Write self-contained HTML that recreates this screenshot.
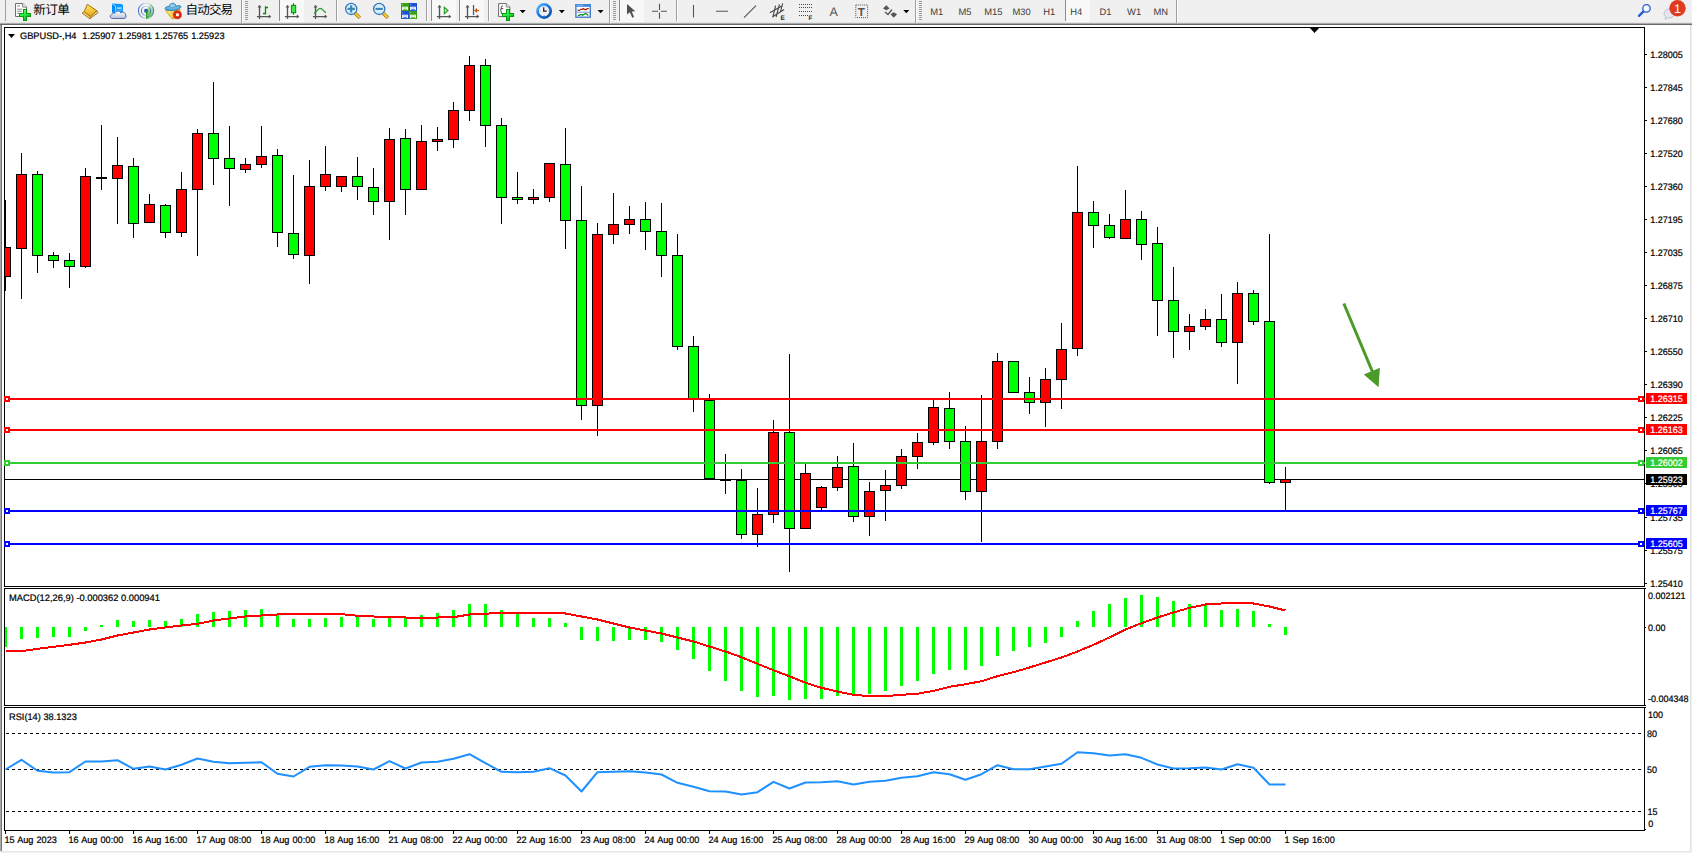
<!DOCTYPE html>
<html lang="zh"><head><meta charset="utf-8"><title>GBPUSD-,H4</title>
<style>html,body{margin:0;padding:0;background:#fff;overflow:hidden}body{width:1692px;height:853px;position:relative}svg{display:block;position:absolute;left:0;top:0}</style>
</head><body>
<svg width="1692" height="853" viewBox="0 0 1692 853" font-family="Liberation Sans, Noto Sans CJK SC, sans-serif" font-size="9.4px" text-rendering="geometricPrecision">
<defs><clipPath id="cp"><rect x="5" y="28" width="1639" height="802"/></clipPath></defs>
<rect x="0" y="0" width="1692" height="853" fill="#fff" />
<g id="toolbar">
<rect x="0" y="0" width="1692" height="23" fill="#f0f0f0" />
<rect x="0" y="22" width="1692" height="1" fill="#e4e4e4" />
<rect x="0" y="23" width="1692" height="1" fill="#ababab" />
<rect x="0" y="24" width="1692" height="1" fill="#686868" />
<g shape-rendering="crispEdges">
<rect x="5" y="0" width="1" height="21" fill="#a0a0a0" />
<rect x="241" y="0" width="1" height="23" fill="#a0a0a0" />
<rect x="242" y="0" width="1" height="23" fill="#fbfbfb" />
<rect x="245" y="1" width="3" height="1" fill="#9a9a9a" />
<rect x="245" y="3" width="3" height="1" fill="#9a9a9a" />
<rect x="245" y="5" width="3" height="1" fill="#9a9a9a" />
<rect x="245" y="7" width="3" height="1" fill="#9a9a9a" />
<rect x="245" y="9" width="3" height="1" fill="#9a9a9a" />
<rect x="245" y="11" width="3" height="1" fill="#9a9a9a" />
<rect x="245" y="13" width="3" height="1" fill="#9a9a9a" />
<rect x="245" y="15" width="3" height="1" fill="#9a9a9a" />
<rect x="245" y="17" width="3" height="1" fill="#9a9a9a" />
<rect x="245" y="19" width="3" height="1" fill="#9a9a9a" />
<rect x="279" y="0" width="1" height="21" fill="#8c8c8c" />
<rect x="280" y="0" width="24" height="21" fill="#f8f8f8" />
<rect x="279" y="21" width="25" height="1" fill="#fdfdfd" />
<rect x="336" y="0" width="1" height="21" fill="#a0a0a0" />
<rect x="337" y="0" width="1" height="21" fill="#fbfbfb" />
<rect x="426" y="0" width="1" height="21" fill="#a0a0a0" />
<rect x="427" y="0" width="1" height="21" fill="#fbfbfb" />
<rect x="431" y="0" width="1" height="21" fill="#8c8c8c" />
<rect x="432" y="0" width="24" height="21" fill="#f8f8f8" />
<rect x="431" y="21" width="25" height="1" fill="#fdfdfd" />
<rect x="459" y="0" width="1" height="21" fill="#8c8c8c" />
<rect x="460" y="0" width="24" height="21" fill="#f8f8f8" />
<rect x="459" y="21" width="25" height="1" fill="#fdfdfd" />
<rect x="488" y="0" width="1" height="21" fill="#a0a0a0" />
<rect x="489" y="0" width="1" height="21" fill="#fbfbfb" />
<rect x="609" y="0" width="1" height="23" fill="#a0a0a0" />
<rect x="610" y="0" width="1" height="23" fill="#fbfbfb" />
<rect x="613" y="1" width="3" height="1" fill="#9a9a9a" />
<rect x="613" y="3" width="3" height="1" fill="#9a9a9a" />
<rect x="613" y="5" width="3" height="1" fill="#9a9a9a" />
<rect x="613" y="7" width="3" height="1" fill="#9a9a9a" />
<rect x="613" y="9" width="3" height="1" fill="#9a9a9a" />
<rect x="613" y="11" width="3" height="1" fill="#9a9a9a" />
<rect x="613" y="13" width="3" height="1" fill="#9a9a9a" />
<rect x="613" y="15" width="3" height="1" fill="#9a9a9a" />
<rect x="613" y="17" width="3" height="1" fill="#9a9a9a" />
<rect x="613" y="19" width="3" height="1" fill="#9a9a9a" />
<rect x="619" y="0" width="1" height="21" fill="#8c8c8c" />
<rect x="620" y="0" width="24" height="21" fill="#f8f8f8" />
<rect x="619" y="21" width="25" height="1" fill="#fdfdfd" />
<rect x="676" y="0" width="1" height="21" fill="#a0a0a0" />
<rect x="677" y="0" width="1" height="21" fill="#fbfbfb" />
<rect x="915" y="0" width="1" height="23" fill="#a0a0a0" />
<rect x="916" y="0" width="1" height="23" fill="#fbfbfb" />
<rect x="919" y="1" width="3" height="1" fill="#9a9a9a" />
<rect x="919" y="3" width="3" height="1" fill="#9a9a9a" />
<rect x="919" y="5" width="3" height="1" fill="#9a9a9a" />
<rect x="919" y="7" width="3" height="1" fill="#9a9a9a" />
<rect x="919" y="9" width="3" height="1" fill="#9a9a9a" />
<rect x="919" y="11" width="3" height="1" fill="#9a9a9a" />
<rect x="919" y="13" width="3" height="1" fill="#9a9a9a" />
<rect x="919" y="15" width="3" height="1" fill="#9a9a9a" />
<rect x="919" y="17" width="3" height="1" fill="#9a9a9a" />
<rect x="919" y="19" width="3" height="1" fill="#9a9a9a" />
<rect x="1065" y="0" width="1" height="21" fill="#8c8c8c" />
<rect x="1066" y="0" width="24" height="21" fill="#f8f8f8" />
<rect x="1065" y="21" width="25" height="1" fill="#fdfdfd" />
<rect x="1176" y="0" width="1" height="23" fill="#a0a0a0" />
<rect x="1177" y="0" width="1" height="23" fill="#fbfbfb" />
</g>
<defs><linearGradient id="gp" x1="0" y1="0" x2="0.7" y2="1"><stop offset="0" stop-color="#8cff90"/><stop offset="0.5" stop-color="#22ee44"/><stop offset="1" stop-color="#06b81c"/></linearGradient><linearGradient id="gbk" x1="0.2" y1="0" x2="0.6" y2="1"><stop offset="0" stop-color="#ffe860"/><stop offset="1" stop-color="#e8a818"/></linearGradient><linearGradient id="gcl" x1="0" y1="0" x2="0" y2="1"><stop offset="0" stop-color="#ffffff"/><stop offset="1" stop-color="#b4c0dc"/></linearGradient><linearGradient id="grg" x1="0" y1="0" x2="1" y2="0"><stop offset="0" stop-color="#2858d0"/><stop offset="0.45" stop-color="#c8d6f0"/><stop offset="0.75" stop-color="#a8d0b0"/><stop offset="1" stop-color="#2a6a90"/></linearGradient><linearGradient id="ggs" x1="0.7" y1="0" x2="0.2" y2="1"><stop offset="0" stop-color="#9cd09a" stop-opacity="0.35"/><stop offset="1" stop-color="#2ea02a" stop-opacity="1"/></linearGradient><linearGradient id="gyl" x1="0" y1="0" x2="1" y2="1"><stop offset="0" stop-color="#fff080"/><stop offset="1" stop-color="#f0b820"/></linearGradient><radialGradient id="ght" cx="0.45" cy="0.3" r="0.7"><stop offset="0" stop-color="#9ad4f4"/><stop offset="1" stop-color="#4aa4dc"/></radialGradient></defs>
<path d="M15.500 3.500h7.200l3.800 3.600v9.400h-11z" fill="#fff" stroke="#6e6e6e" stroke-width="1"/>
<path d="M22.700 3.500v3.600h3.800" fill="#f4f4f4" stroke="#6e6e6e" stroke-width="0.900"/>
<path d="M17.200 6h2.600" stroke="#999" stroke-width="1.300"/><path d="M17.200 9.200h5M17.200 11.300h4.600M17.200 13.400h2" stroke="#8a8a8a" stroke-width="1"/>
<g shape-rendering="crispEdges"><path d="M23 9h4v4h4v4h-4v4h-4v-4h-4v-4h4z" fill="#0a960e"/><path d="M24 10h2v4h4v2h-4v4h-2v-4h-4v-2h4z" fill="url(#gp)"/></g>
<text x="33.200" y="14.300" font-size="12.600px" letter-spacing="-0.600px" fill="#000">新订单</text>
<path d="M96.900 10.700L98 12.700L89.800 18.700L90.600 16.500z" fill="#ece2b0" stroke="#a06a14" stroke-width="0.900" stroke-linejoin="round"/>
<path d="M84.300 11.600L90.600 16.500L89.800 18.700L82.100 13.100z" fill="#f2cc66" stroke="#a8700f" stroke-width="0.900" stroke-linejoin="round"/>
<path d="M87.300 4.300L96.900 10.700L90.600 16.500L84.300 11.600z" fill="url(#gbk)" stroke="#a8700f" stroke-width="1" stroke-linejoin="round"/>
<path d="M112.100 3.400L121.800 3.900L123 5.200V12.500H112.100z" fill="#0a98ff"/>
<path d="M112.100 4.200L115.600 6.500V12.500H112.100z" fill="#0088f0"/><path d="M112.300 3.800L115.600 6.300V12" stroke="#d8f0ff" stroke-width="0.700" fill="none"/>
<path d="M117.100 8.100H121.800" stroke="#e8f8ff" stroke-width="1.200"/><path d="M117 10.300H122.500" stroke="#60c0ff" stroke-width="0.800"/>
<path d="M112.400 18.500C109.600 18.500 109.400 14.400 112.400 14.200C112.600 12.800 114.300 12.600 115 13.300C115.600 10.400 120 10.400 120.800 13C122.500 11.300 125.600 12.300 125.600 14.900C126.600 16 126 18.500 124 18.500z" fill="url(#gcl)" stroke="#44609c" stroke-width="0.900"/>
<circle cx="146" cy="10.850" r="7.900" fill="#f4f4ee"/>
<path d="M146 10.850L146 18.750A7.900 7.900 0 0 0 150.500 4.350z" fill="url(#ggs)"/>
<g fill="none" stroke="url(#grg)" opacity="0.800"><circle cx="146" cy="10.850" r="7.600" stroke-width="1.100"/><circle cx="146" cy="10.850" r="4.600" stroke-width="1.100"/></g>
<circle cx="146" cy="10.700" r="2" fill="#2456cc"/><rect x="146" y="11.100" width="1.300" height="7.600" fill="#22a01c"/>
<path d="M165.400 10.500L180.300 9.600L174 18.700H172z" fill="url(#gyl)" stroke="#c89a10" stroke-width="0.800" stroke-linejoin="round"/>
<path d="M165.100 8.300C165.300 6.800 167.800 6.300 169.200 6.600C169.200 2.300 175.900 2.100 175.900 6.200C177.800 5.400 180.600 5.300 180.900 6.600C181.200 8.600 176.500 10.400 172 10.500C168 10.600 164.900 9.900 165.100 8.300z" fill="url(#ght)" stroke="#2a80b4" stroke-width="0.900"/>
<path d="M169.300 6.800C170.500 8.200 174.500 8 175.800 6.400" fill="none" stroke="#2a80b4" stroke-width="0.600" opacity="0.700"/>
<circle cx="177.350" cy="14.800" r="4.100" fill="#e22a0c" stroke="#b41800" stroke-width="0.500"/><rect x="176.100" y="13.400" width="2.700" height="2.800" fill="#fff"/>
<text x="185.500" y="14.300" font-size="12.600px" letter-spacing="-0.900px" fill="#000">自动交易</text>
<g stroke="#555" stroke-width="1.35" fill="none"><path d="M259.5 5.5V19M256.9 16.6H269.5"/></g>
<path d="M257.5 7.6L259.5 5L261.5 7.6zM268.8 14.6L271.3 16.6L268.8 18.6z" fill="#555"/>
<path d="M265.5 6.2V14.6M265.5 7.5H268M263 13.5H265.5" stroke="#0a8a0a" stroke-width="1.3" fill="none"/>
<g stroke="#555" stroke-width="1.35" fill="none"><path d="M287.5 5.5V19M284.9 16.6H297.5"/></g>
<path d="M285.5 7.6L287.5 5L289.5 7.6zM296.8 14.6L299.3 16.6L296.8 18.6z" fill="#555"/>
<path d="M293.5 3.2V14.8" stroke="#0a8a0a" stroke-width="1.2"/><rect x="291.400" y="5.4" width="4.3" height="7.3" fill="#40e850" stroke="#0a8a0a" stroke-width="1"/>
<g stroke="#555" stroke-width="1.35" fill="none"><path d="M315.5 5.5V19M312.9 16.6H325.5"/></g>
<path d="M313.5 7.6L315.5 5L317.5 7.6zM324.8 14.6L327.3 16.6L324.8 18.6z" fill="#555"/>
<path d="M314 13.600C316.500 12 318 8.400 320.200 8.400S323.500 11.500 326 12.600" stroke="#1f9a2f" stroke-width="1.2" fill="none"/>
<path d="M354.8 12.900L359.9 17.700" stroke="#a8700c" stroke-width="3.400" stroke-linecap="butt"/>
<path d="M355.0 13.100L359.7 17.500" stroke="#f0d030" stroke-width="2" stroke-linecap="butt"/>
<circle cx="351.2" cy="8.900" r="5.600" fill="#d8f0fa" stroke="#3278c0" stroke-width="1.300"/>
<path d="M347.5 8.900H354.9M351.2 5.200V12.600" stroke="#3c86b4" stroke-width="2.100"/>
<path d="M382.8 12.900L387.9 17.700" stroke="#a8700c" stroke-width="3.400" stroke-linecap="butt"/>
<path d="M383.0 13.100L387.7 17.500" stroke="#f0d030" stroke-width="2" stroke-linecap="butt"/>
<circle cx="379.2" cy="8.900" r="5.600" fill="#d8f0fa" stroke="#3278c0" stroke-width="1.300"/>
<path d="M375.5 8.900H382.9" stroke="#3c86b4" stroke-width="2.100"/>
<g shape-rendering="crispEdges">
<rect x="401" y="3" width="8" height="8" fill="#38a014" />
<rect x="402" y="4" width="1" height="1" fill="#8fd070" />
<rect x="402.1" y="6.7" width="5.8" height="3.4" fill="#fff" shape-rendering="geometricPrecision"/>
<rect x="403.2" y="7.5" width="3.6" height="0.9" fill="#8fd070" shape-rendering="geometricPrecision"/>
<rect x="403.2" y="9.3" width="3.6" height="0.9" fill="#38a014" shape-rendering="geometricPrecision"/>
<rect x="409" y="3" width="8" height="8" fill="#1e50d2" />
<rect x="410" y="4" width="1" height="1" fill="#88a4f0" />
<rect x="410.1" y="6.7" width="5.8" height="3.4" fill="#fff" shape-rendering="geometricPrecision"/>
<rect x="411.2" y="7.5" width="3.6" height="0.9" fill="#88a4f0" shape-rendering="geometricPrecision"/>
<rect x="411.2" y="9.3" width="3.6" height="0.9" fill="#1e50d2" shape-rendering="geometricPrecision"/>
<rect x="401" y="11" width="8" height="8" fill="#1e50d2" />
<rect x="402" y="12" width="1" height="1" fill="#88a4f0" />
<rect x="402.1" y="14.7" width="5.8" height="3.4" fill="#fff" shape-rendering="geometricPrecision"/>
<rect x="403.2" y="15.5" width="3.6" height="0.9" fill="#88a4f0" shape-rendering="geometricPrecision"/>
<rect x="403.2" y="17.3" width="3.6" height="0.9" fill="#1e50d2" shape-rendering="geometricPrecision"/>
<rect x="409" y="11" width="8" height="8" fill="#38a014" />
<rect x="410" y="12" width="1" height="1" fill="#8fd070" />
<rect x="410.1" y="14.7" width="5.8" height="3.4" fill="#fff" shape-rendering="geometricPrecision"/>
<rect x="411.2" y="15.5" width="3.6" height="0.9" fill="#8fd070" shape-rendering="geometricPrecision"/>
<rect x="411.2" y="17.3" width="3.6" height="0.9" fill="#38a014" shape-rendering="geometricPrecision"/>
</g>
<g stroke="#555" stroke-width="1.35" fill="none"><path d="M439.5 5.5V19M436.9 16.6H449.5"/></g>
<path d="M437.5 7.6L439.5 5L441.5 7.6zM448.8 14.6L451.3 16.6L448.8 18.6z" fill="#555"/>
<path d="M444.300 7.300V13.700L448 10.500z" fill="#c8f0c0" stroke="#1f9a1f" stroke-width="1.1"/>
<g stroke="#555" stroke-width="1.35" fill="none"><path d="M467.5 5.5V19M464.9 16.6H477.5"/></g>
<path d="M465.5 7.6L467.5 5L469.5 7.6zM476.8 14.6L479.3 16.6L476.8 18.6z" fill="#555"/>
<path d="M473.500 5V15" stroke="#1a6ab0" stroke-width="1.300"/><path d="M475 10.500H479" stroke="#dc5008" stroke-width="1.300" fill="none"/><path d="M474.200 10.500L477 8L477 13z" fill="#dc5008"/>
<path d="M498.600 3.600h7.600l3.600 3.400v9.600h-11.200z" fill="#fff" stroke="#6a6a6a" stroke-width="1"/>
<path d="M506.200 3.600v3.400h3.600" fill="#f0f0f0" stroke="#6a6a6a" stroke-width="0.800"/>
<path d="M503 6c-1.600 0-1.800 0.600-1.800 2.200c0 1.200-0.300 1.700-1 1.900c0.700 0.200 1 0.700 1 1.900c0 1.600 0.200 2.200 1.800 2.200M501 8.600h2.300" fill="none" stroke="#3a3a3a" stroke-width="0.900"/>
<g shape-rendering="crispEdges"><path d="M506 9h4v4h4v4h-4v4h-4v-4h-4v-4h4z" fill="#0a960e"/><path d="M507 10h2v4h4v2h-4v4h-2v-4h-4v-2h4z" fill="url(#gp)"/></g>
<path d="M519.7 10h6l-3 3.2z" fill="#000" shape-rendering="geometricPrecision"/>
<defs><linearGradient id="gck" x1="0.15" y1="0.1" x2="0.85" y2="0.95"><stop offset="0" stop-color="#4aa8fa"/><stop offset="0.5" stop-color="#1672dc"/><stop offset="1" stop-color="#0a50b4"/></linearGradient></defs>
<circle cx="544.100" cy="11" r="6.600" fill="#eef0f4" stroke="url(#gck)" stroke-width="2.700"/>
<path d="M543.700 7.200V11.200H546.700" fill="none" stroke="#222" stroke-width="1.300"/>
<g fill="#889"><rect x="543.700" y="15" width="0.900" height="0.900"/><rect x="539.600" y="10.600" width="0.900" height="0.900"/><rect x="547.800" y="10.600" width="0.600" height="0.600"/></g>
<path d="M558.8 10h6l-3 3.2z" fill="#000" shape-rendering="geometricPrecision"/>
<rect x="575.900" y="4.800" width="14.400" height="12.400" fill="#fff" stroke="#3a74c4" stroke-width="1.300"/>
<rect x="575.300" y="4.200" width="15.600" height="2.600" fill="#3f84dc"/><rect x="576.500" y="4.800" width="7" height="0.800" fill="#9cc8f8"/>
<path d="M576.500 12.200H589.800" stroke="#5a90d8" stroke-width="0.900"/>
<path d="M577.500 10.400H579.300L580.800 9.300H582.300L583.300 8.500L584.500 9.500H586.300L587.300 8.600H588.800" fill="none" stroke="#a42a08" stroke-width="1.300"/>
<path d="M577.800 15.300H579.300L580.300 14.600H581.800L582.800 15.200L584.300 14.200L585.500 13.400L586.500 14L588.300 15.600" fill="none" stroke="#0e8a24" stroke-width="1.300"/>
<path d="M597.6 10h6l-3 3.2z" fill="#000" shape-rendering="geometricPrecision"/>
<path d="M627 3.900V14.600L629.800 12.200L632.300 17.800L634.100 16.900L631.700 11.500L635.300 11.300z" fill="#505050"/>
<path d="M659.500 3.800V10M659.500 12.600V18.800M652 11.300H658.200M660.800 11.300H667" stroke="#555" stroke-width="1.100" fill="none"/>
<path d="M693.500 5V17.500M716 11.300H728M744 17.600L756 5.600" stroke="#555" stroke-width="1.100" fill="none"/>
<path d="M769.900 12.800L782.200 5.700M772.300 17L784.100 9.500M775.600 5.700L772.800 17.500M779.400 4.300L776.100 17M782.700 3.300L780.300 12.300" stroke="#484848" stroke-width="1.100" fill="none"/>
<text x="780.600" y="19.900" font-size="6.400px" font-weight="bold" fill="#2a2a2a">E</text>
<path d="M799 4.5H812.5" stroke="#4a4a4a" stroke-width="1" stroke-dasharray="1 1" shape-rendering="crispEdges"/>
<path d="M799 7.5H812.5" stroke="#4a4a4a" stroke-width="1" stroke-dasharray="1 1" shape-rendering="crispEdges"/>
<path d="M799 11.5H812.5" stroke="#4a4a4a" stroke-width="1" stroke-dasharray="1 1" shape-rendering="crispEdges"/>
<path d="M799 15.5H807.5" stroke="#4a4a4a" stroke-width="1" stroke-dasharray="1 1" shape-rendering="crispEdges"/>
<text x="808.600" y="19.900" font-size="6.400px" font-weight="bold" fill="#2a2a2a">F</text>
<text x="829.600" y="16.200" font-size="12.500px" fill="#555">A</text>
<rect x="855.800" y="5" width="11.800" height="12.600" fill="none" stroke="#555" stroke-width="1" stroke-dasharray="1 1"/>
<text x="857.700" y="15.800" font-size="11.500px" font-weight="bold" fill="#555">T</text>
<path d="M883 8.400L886.300 5.200L889.600 8.400L886.300 10.300z" fill="#555"/><path d="M890.500 14.300L893.800 12.300L897.100 14.300L893.800 17.700z" fill="#555"/>
<path d="M885 12L888 14.500L892 9.500" fill="none" stroke="#555" stroke-width="1.300"/>
<path d="M903.3 10h6l-3 3.2z" fill="#000" shape-rendering="geometricPrecision"/>
<text x="930.3" y="15" font-size="9.400px" fill="#3c3c3c">M1</text>
<text x="958.5" y="15" font-size="9.400px" fill="#3c3c3c">M5</text>
<text x="984.3" y="15" font-size="9.400px" fill="#3c3c3c">M15</text>
<text x="1012.5" y="15" font-size="9.400px" fill="#3c3c3c">M30</text>
<text x="1043.2" y="15" font-size="9.400px" fill="#3c3c3c">H1</text>
<text x="1070.2" y="15" font-size="9.400px" fill="#3c3c3c">H4</text>
<text x="1099.6" y="15" font-size="9.400px" fill="#3c3c3c">D1</text>
<text x="1127.1" y="15" font-size="9.400px" fill="#3c3c3c">W1</text>
<text x="1153.5" y="15" font-size="9.400px" fill="#3c3c3c">MN</text>
<path d="M1643.800 11.200L1639 15.800" stroke="#2a5ad0" stroke-width="2.400" stroke-linecap="round"/><circle cx="1646.500" cy="8.400" r="3.700" fill="#f4f8ff" stroke="#2a5ad0" stroke-width="1.300"/>
<path d="M1664 13.500a5.500 4.500 0 0 1 11 0a5.500 4.500 0 0 1 -7.500 4.200l-2.300 1.800l0.600-2.800a4.500 4.500 0 0 1 -1.800-3.200z" fill="#e4e6ee" stroke="#b8b8c0" stroke-width="0.800"/>
<circle cx="1677.500" cy="8.200" r="8.200" fill="#e03a20"/>
<text x="1677.500" y="12.800" font-size="12.500px" fill="#fff" text-anchor="middle">1</text>
</g>
<rect x="0" y="25" width="1" height="826" fill="#a8a8a8" />
<rect x="1" y="25" width="1" height="826" fill="#747474" />
<rect x="1690" y="25" width="1" height="826" fill="#e0e0e0" />
<rect x="1691" y="25" width="1" height="828" fill="#f0f0f0" />
<rect x="0" y="851" width="1691" height="1" fill="#e6e6e6" />
<rect x="0" y="852" width="1692" height="1" fill="#f0f0f0" />
<g shape-rendering="crispEdges">
<rect x="4" y="27" width="1641" height="1" fill="#000" />
<rect x="4" y="27" width="1" height="560" fill="#000" />
<rect x="4" y="586" width="1641" height="1" fill="#000" />
<rect x="1644" y="27" width="1" height="560" fill="#000" />
<rect x="1644" y="588" width="1" height="118" fill="#000" />
<rect x="1644" y="707" width="1" height="124" fill="#000" />
<rect x="1645" y="588" width="1" height="1" fill="#000" />
<rect x="1645" y="705" width="1" height="1" fill="#000" />
<rect x="1645" y="707" width="1" height="1" fill="#000" />
<rect x="4" y="588" width="1641" height="1" fill="#000" />
<rect x="4" y="588" width="1" height="118" fill="#000" />
<rect x="4" y="705" width="1641" height="1" fill="#000" />
<rect x="4" y="707" width="1641" height="1" fill="#000" />
<rect x="4" y="707" width="1" height="124" fill="#000" />
<rect x="4" y="830" width="1641" height="1" fill="#000" />
<rect x="1645" y="829" width="1" height="1" fill="#000" />
<g clip-path="url(#cp)">
<rect x="5" y="479" width="1639" height="1" fill="#000" />
<rect x="5" y="200" width="1" height="91" fill="#000" />
<rect x="0" y="247" width="11" height="30" fill="#000" />
<rect x="1" y="248" width="9" height="28" fill="#f00" />
<rect x="21" y="153" width="1" height="146" fill="#000" />
<rect x="16" y="174" width="11" height="75" fill="#000" />
<rect x="17" y="175" width="9" height="73" fill="#f00" />
<rect x="37" y="171" width="1" height="102" fill="#000" />
<rect x="32" y="174" width="11" height="82" fill="#000" />
<rect x="33" y="175" width="9" height="80" fill="#0f0" />
<rect x="53" y="252" width="1" height="16" fill="#000" />
<rect x="48" y="255" width="11" height="6" fill="#000" />
<rect x="49" y="256" width="9" height="4" fill="#0f0" />
<rect x="69" y="253" width="1" height="35" fill="#000" />
<rect x="64" y="260" width="11" height="7" fill="#000" />
<rect x="65" y="261" width="9" height="5" fill="#0f0" />
<rect x="85" y="168" width="1" height="100" fill="#000" />
<rect x="80" y="176" width="11" height="91" fill="#000" />
<rect x="81" y="177" width="9" height="89" fill="#f00" />
<rect x="101" y="125" width="1" height="65" fill="#000" />
<rect x="96" y="177" width="11" height="2" fill="#000" />
<rect x="117" y="137" width="1" height="87" fill="#000" />
<rect x="112" y="165" width="11" height="14" fill="#000" />
<rect x="113" y="166" width="9" height="12" fill="#f00" />
<rect x="133" y="158" width="1" height="80" fill="#000" />
<rect x="128" y="166" width="11" height="58" fill="#000" />
<rect x="129" y="167" width="9" height="56" fill="#0f0" />
<rect x="149" y="194" width="1" height="29" fill="#000" />
<rect x="144" y="204" width="11" height="19" fill="#000" />
<rect x="145" y="205" width="9" height="17" fill="#f00" />
<rect x="165" y="204" width="1" height="34" fill="#000" />
<rect x="160" y="205" width="11" height="28" fill="#000" />
<rect x="161" y="206" width="9" height="26" fill="#0f0" />
<rect x="181" y="172" width="1" height="65" fill="#000" />
<rect x="176" y="189" width="11" height="44" fill="#000" />
<rect x="177" y="190" width="9" height="42" fill="#f00" />
<rect x="197" y="129" width="1" height="127" fill="#000" />
<rect x="192" y="133" width="11" height="57" fill="#000" />
<rect x="193" y="134" width="9" height="55" fill="#f00" />
<rect x="213" y="82" width="1" height="103" fill="#000" />
<rect x="208" y="133" width="11" height="26" fill="#000" />
<rect x="209" y="134" width="9" height="24" fill="#0f0" />
<rect x="229" y="126" width="1" height="80" fill="#000" />
<rect x="224" y="158" width="11" height="11" fill="#000" />
<rect x="225" y="159" width="9" height="9" fill="#0f0" />
<rect x="245" y="158" width="1" height="15" fill="#000" />
<rect x="240" y="164" width="11" height="6" fill="#000" />
<rect x="241" y="165" width="9" height="4" fill="#f00" />
<rect x="261" y="126" width="1" height="42" fill="#000" />
<rect x="256" y="156" width="11" height="9" fill="#000" />
<rect x="257" y="157" width="9" height="7" fill="#f00" />
<rect x="277" y="149" width="1" height="98" fill="#000" />
<rect x="272" y="155" width="11" height="78" fill="#000" />
<rect x="273" y="156" width="9" height="76" fill="#0f0" />
<rect x="293" y="175" width="1" height="84" fill="#000" />
<rect x="288" y="233" width="11" height="22" fill="#000" />
<rect x="289" y="234" width="9" height="20" fill="#0f0" />
<rect x="309" y="160" width="1" height="124" fill="#000" />
<rect x="304" y="186" width="11" height="70" fill="#000" />
<rect x="305" y="187" width="9" height="68" fill="#f00" />
<rect x="325" y="146" width="1" height="45" fill="#000" />
<rect x="320" y="174" width="11" height="13" fill="#000" />
<rect x="321" y="175" width="9" height="11" fill="#f00" />
<rect x="341" y="176" width="1" height="16" fill="#000" />
<rect x="336" y="176" width="11" height="11" fill="#000" />
<rect x="337" y="177" width="9" height="9" fill="#f00" />
<rect x="357" y="157" width="1" height="43" fill="#000" />
<rect x="352" y="176" width="11" height="11" fill="#000" />
<rect x="353" y="177" width="9" height="9" fill="#0f0" />
<rect x="373" y="168" width="1" height="47" fill="#000" />
<rect x="368" y="187" width="11" height="15" fill="#000" />
<rect x="369" y="188" width="9" height="13" fill="#0f0" />
<rect x="389" y="128" width="1" height="112" fill="#000" />
<rect x="384" y="139" width="11" height="63" fill="#000" />
<rect x="385" y="140" width="9" height="61" fill="#f00" />
<rect x="405" y="129" width="1" height="86" fill="#000" />
<rect x="400" y="138" width="11" height="52" fill="#000" />
<rect x="401" y="139" width="9" height="50" fill="#0f0" />
<rect x="421" y="125" width="1" height="65" fill="#000" />
<rect x="416" y="141" width="11" height="49" fill="#000" />
<rect x="417" y="142" width="9" height="47" fill="#f00" />
<rect x="437" y="127" width="1" height="24" fill="#000" />
<rect x="432" y="139" width="11" height="3" fill="#000" />
<rect x="433" y="140" width="9" height="1" fill="#f00" />
<rect x="453" y="102" width="1" height="46" fill="#000" />
<rect x="448" y="110" width="11" height="30" fill="#000" />
<rect x="449" y="111" width="9" height="28" fill="#f00" />
<rect x="469" y="56" width="1" height="65" fill="#000" />
<rect x="464" y="65" width="11" height="46" fill="#000" />
<rect x="465" y="66" width="9" height="44" fill="#f00" />
<rect x="485" y="59" width="1" height="88" fill="#000" />
<rect x="480" y="65" width="11" height="61" fill="#000" />
<rect x="481" y="66" width="9" height="59" fill="#0f0" />
<rect x="501" y="118" width="1" height="106" fill="#000" />
<rect x="496" y="125" width="11" height="73" fill="#000" />
<rect x="497" y="126" width="9" height="71" fill="#0f0" />
<rect x="517" y="172" width="1" height="32" fill="#000" />
<rect x="512" y="197" width="11" height="3" fill="#000" />
<rect x="513" y="198" width="9" height="1" fill="#0f0" />
<rect x="533" y="189" width="1" height="15" fill="#000" />
<rect x="528" y="197" width="11" height="3" fill="#000" />
<rect x="529" y="198" width="9" height="1" fill="#f00" />
<rect x="549" y="163" width="1" height="39" fill="#000" />
<rect x="544" y="163" width="11" height="35" fill="#000" />
<rect x="545" y="164" width="9" height="33" fill="#f00" />
<rect x="565" y="128" width="1" height="121" fill="#000" />
<rect x="560" y="164" width="11" height="57" fill="#000" />
<rect x="561" y="165" width="9" height="55" fill="#0f0" />
<rect x="581" y="186" width="1" height="234" fill="#000" />
<rect x="576" y="220" width="11" height="186" fill="#000" />
<rect x="577" y="221" width="9" height="184" fill="#0f0" />
<rect x="597" y="223" width="1" height="213" fill="#000" />
<rect x="592" y="234" width="11" height="172" fill="#000" />
<rect x="593" y="235" width="9" height="170" fill="#f00" />
<rect x="613" y="193" width="1" height="51" fill="#000" />
<rect x="608" y="224" width="11" height="11" fill="#000" />
<rect x="609" y="225" width="9" height="9" fill="#f00" />
<rect x="629" y="206" width="1" height="28" fill="#000" />
<rect x="624" y="219" width="11" height="6" fill="#000" />
<rect x="625" y="220" width="9" height="4" fill="#f00" />
<rect x="645" y="202" width="1" height="48" fill="#000" />
<rect x="640" y="219" width="11" height="13" fill="#000" />
<rect x="641" y="220" width="9" height="11" fill="#0f0" />
<rect x="661" y="203" width="1" height="74" fill="#000" />
<rect x="656" y="231" width="11" height="25" fill="#000" />
<rect x="657" y="232" width="9" height="23" fill="#0f0" />
<rect x="677" y="234" width="1" height="116" fill="#000" />
<rect x="672" y="255" width="11" height="92" fill="#000" />
<rect x="673" y="256" width="9" height="90" fill="#0f0" />
<rect x="693" y="336" width="1" height="76" fill="#000" />
<rect x="688" y="346" width="11" height="53" fill="#000" />
<rect x="689" y="347" width="9" height="51" fill="#0f0" />
<rect x="709" y="394" width="1" height="85" fill="#000" />
<rect x="704" y="400" width="11" height="79" fill="#000" />
<rect x="705" y="401" width="9" height="77" fill="#0f0" />
<rect x="725" y="454" width="1" height="40" fill="#000" />
<rect x="720" y="479" width="11" height="2" fill="#000" />
<rect x="741" y="469" width="1" height="70" fill="#000" />
<rect x="736" y="480" width="11" height="55" fill="#000" />
<rect x="737" y="481" width="9" height="53" fill="#0f0" />
<rect x="757" y="488" width="1" height="59" fill="#000" />
<rect x="752" y="514" width="11" height="21" fill="#000" />
<rect x="753" y="515" width="9" height="19" fill="#f00" />
<rect x="773" y="420" width="1" height="103" fill="#000" />
<rect x="768" y="432" width="11" height="83" fill="#000" />
<rect x="769" y="433" width="9" height="81" fill="#f00" />
<rect x="789" y="354" width="1" height="218" fill="#000" />
<rect x="784" y="432" width="11" height="97" fill="#000" />
<rect x="785" y="433" width="9" height="95" fill="#0f0" />
<rect x="805" y="464" width="1" height="65" fill="#000" />
<rect x="800" y="473" width="11" height="56" fill="#000" />
<rect x="801" y="474" width="9" height="54" fill="#f00" />
<rect x="821" y="486" width="1" height="24" fill="#000" />
<rect x="816" y="487" width="11" height="21" fill="#000" />
<rect x="817" y="488" width="9" height="19" fill="#f00" />
<rect x="837" y="456" width="1" height="35" fill="#000" />
<rect x="832" y="467" width="11" height="21" fill="#000" />
<rect x="833" y="468" width="9" height="19" fill="#f00" />
<rect x="853" y="443" width="1" height="79" fill="#000" />
<rect x="848" y="466" width="11" height="51" fill="#000" />
<rect x="849" y="467" width="9" height="49" fill="#0f0" />
<rect x="869" y="482" width="1" height="54" fill="#000" />
<rect x="864" y="491" width="11" height="26" fill="#000" />
<rect x="865" y="492" width="9" height="24" fill="#f00" />
<rect x="885" y="470" width="1" height="51" fill="#000" />
<rect x="880" y="485" width="11" height="6" fill="#000" />
<rect x="881" y="486" width="9" height="4" fill="#f00" />
<rect x="901" y="449" width="1" height="40" fill="#000" />
<rect x="896" y="456" width="11" height="30" fill="#000" />
<rect x="897" y="457" width="9" height="28" fill="#f00" />
<rect x="917" y="433" width="1" height="36" fill="#000" />
<rect x="912" y="442" width="11" height="15" fill="#000" />
<rect x="913" y="443" width="9" height="13" fill="#f00" />
<rect x="933" y="400" width="1" height="45" fill="#000" />
<rect x="928" y="407" width="11" height="36" fill="#000" />
<rect x="929" y="408" width="9" height="34" fill="#f00" />
<rect x="949" y="392" width="1" height="57" fill="#000" />
<rect x="944" y="408" width="11" height="34" fill="#000" />
<rect x="945" y="409" width="9" height="32" fill="#0f0" />
<rect x="965" y="426" width="1" height="74" fill="#000" />
<rect x="960" y="441" width="11" height="51" fill="#000" />
<rect x="961" y="442" width="9" height="49" fill="#0f0" />
<rect x="981" y="395" width="1" height="147" fill="#000" />
<rect x="976" y="441" width="11" height="51" fill="#000" />
<rect x="977" y="442" width="9" height="49" fill="#f00" />
<rect x="997" y="353" width="1" height="96" fill="#000" />
<rect x="992" y="361" width="11" height="81" fill="#000" />
<rect x="993" y="362" width="9" height="79" fill="#f00" />
<rect x="1013" y="361" width="1" height="31" fill="#000" />
<rect x="1008" y="361" width="11" height="32" fill="#000" />
<rect x="1009" y="362" width="9" height="30" fill="#0f0" />
<rect x="1029" y="377" width="1" height="37" fill="#000" />
<rect x="1024" y="392" width="11" height="11" fill="#000" />
<rect x="1025" y="393" width="9" height="9" fill="#0f0" />
<rect x="1045" y="368" width="1" height="59" fill="#000" />
<rect x="1040" y="379" width="11" height="24" fill="#000" />
<rect x="1041" y="380" width="9" height="22" fill="#f00" />
<rect x="1061" y="323" width="1" height="86" fill="#000" />
<rect x="1056" y="349" width="11" height="31" fill="#000" />
<rect x="1057" y="350" width="9" height="29" fill="#f00" />
<rect x="1077" y="166" width="1" height="190" fill="#000" />
<rect x="1072" y="212" width="11" height="137" fill="#000" />
<rect x="1073" y="213" width="9" height="135" fill="#f00" />
<rect x="1093" y="201" width="1" height="47" fill="#000" />
<rect x="1088" y="212" width="11" height="14" fill="#000" />
<rect x="1089" y="213" width="9" height="12" fill="#0f0" />
<rect x="1109" y="214" width="1" height="25" fill="#000" />
<rect x="1104" y="225" width="11" height="13" fill="#000" />
<rect x="1105" y="226" width="9" height="11" fill="#0f0" />
<rect x="1125" y="190" width="1" height="49" fill="#000" />
<rect x="1120" y="219" width="11" height="20" fill="#000" />
<rect x="1121" y="220" width="9" height="18" fill="#f00" />
<rect x="1141" y="211" width="1" height="49" fill="#000" />
<rect x="1136" y="219" width="11" height="26" fill="#000" />
<rect x="1137" y="220" width="9" height="24" fill="#0f0" />
<rect x="1157" y="227" width="1" height="109" fill="#000" />
<rect x="1152" y="243" width="11" height="58" fill="#000" />
<rect x="1153" y="244" width="9" height="56" fill="#0f0" />
<rect x="1173" y="267" width="1" height="91" fill="#000" />
<rect x="1168" y="300" width="11" height="32" fill="#000" />
<rect x="1169" y="301" width="9" height="30" fill="#0f0" />
<rect x="1189" y="314" width="1" height="36" fill="#000" />
<rect x="1184" y="326" width="11" height="6" fill="#000" />
<rect x="1185" y="327" width="9" height="4" fill="#f00" />
<rect x="1205" y="309" width="1" height="21" fill="#000" />
<rect x="1200" y="319" width="11" height="8" fill="#000" />
<rect x="1201" y="320" width="9" height="6" fill="#f00" />
<rect x="1221" y="294" width="1" height="53" fill="#000" />
<rect x="1216" y="319" width="11" height="24" fill="#000" />
<rect x="1217" y="320" width="9" height="22" fill="#0f0" />
<rect x="1237" y="282" width="1" height="102" fill="#000" />
<rect x="1232" y="293" width="11" height="50" fill="#000" />
<rect x="1233" y="294" width="9" height="48" fill="#f00" />
<rect x="1253" y="290" width="1" height="35" fill="#000" />
<rect x="1248" y="293" width="11" height="29" fill="#000" />
<rect x="1249" y="294" width="9" height="27" fill="#0f0" />
<rect x="1269" y="234" width="1" height="250" fill="#000" />
<rect x="1264" y="321" width="11" height="162" fill="#000" />
<rect x="1265" y="322" width="9" height="160" fill="#0f0" />
<rect x="1285" y="467" width="1" height="43" fill="#000" />
<rect x="1280" y="479" width="11" height="4" fill="#000" />
<rect x="1281" y="480" width="9" height="2" fill="#f00" />
<rect x="5" y="398" width="1639" height="2" fill="#f00" />
<rect x="1638" y="396" width="6" height="6" fill="#f00" />
<rect x="1640" y="398" width="2" height="2" fill="#fff" />
<rect x="5" y="429" width="1639" height="2" fill="#f00" />
<rect x="1638" y="427" width="6" height="6" fill="#f00" />
<rect x="1640" y="429" width="2" height="2" fill="#fff" />
<rect x="5" y="462" width="1639" height="2" fill="#32cd32" />
<rect x="1638" y="460" width="6" height="6" fill="#32cd32" />
<rect x="1640" y="462" width="2" height="2" fill="#fff" />
<rect x="5" y="510" width="1639" height="2" fill="#00f" />
<rect x="1638" y="508" width="6" height="6" fill="#00f" />
<rect x="1640" y="510" width="2" height="2" fill="#fff" />
<rect x="5" y="543" width="1639" height="2" fill="#00f" />
<rect x="1638" y="541" width="6" height="6" fill="#00f" />
<rect x="1640" y="543" width="2" height="2" fill="#fff" />
<rect x="4" y="627" width="3" height="20" fill="#0f0" />
<rect x="20" y="627" width="3" height="12" fill="#0f0" />
<rect x="36" y="627" width="3" height="11" fill="#0f0" />
<rect x="52" y="627" width="3" height="10" fill="#0f0" />
<rect x="68" y="627" width="3" height="10" fill="#0f0" />
<rect x="84" y="627" width="3" height="4" fill="#0f0" />
<rect x="100" y="625" width="3" height="2" fill="#0f0" />
<rect x="116" y="620" width="3" height="7" fill="#0f0" />
<rect x="132" y="621" width="3" height="6" fill="#0f0" />
<rect x="148" y="620" width="3" height="7" fill="#0f0" />
<rect x="164" y="621" width="3" height="6" fill="#0f0" />
<rect x="180" y="619" width="3" height="8" fill="#0f0" />
<rect x="196" y="614" width="3" height="13" fill="#0f0" />
<rect x="212" y="612" width="3" height="15" fill="#0f0" />
<rect x="228" y="611" width="3" height="16" fill="#0f0" />
<rect x="244" y="610" width="3" height="17" fill="#0f0" />
<rect x="260" y="609" width="3" height="18" fill="#0f0" />
<rect x="276" y="614" width="3" height="13" fill="#0f0" />
<rect x="292" y="619" width="3" height="8" fill="#0f0" />
<rect x="308" y="619" width="3" height="8" fill="#0f0" />
<rect x="324" y="618" width="3" height="9" fill="#0f0" />
<rect x="340" y="617" width="3" height="10" fill="#0f0" />
<rect x="356" y="617" width="3" height="10" fill="#0f0" />
<rect x="372" y="619" width="3" height="8" fill="#0f0" />
<rect x="388" y="616" width="3" height="11" fill="#0f0" />
<rect x="404" y="617" width="3" height="10" fill="#0f0" />
<rect x="420" y="615" width="3" height="12" fill="#0f0" />
<rect x="436" y="613" width="3" height="14" fill="#0f0" />
<rect x="452" y="610" width="3" height="17" fill="#0f0" />
<rect x="468" y="604" width="3" height="23" fill="#0f0" />
<rect x="484" y="604" width="3" height="23" fill="#0f0" />
<rect x="500" y="610" width="3" height="17" fill="#0f0" />
<rect x="516" y="614" width="3" height="13" fill="#0f0" />
<rect x="532" y="618" width="3" height="9" fill="#0f0" />
<rect x="548" y="618" width="3" height="9" fill="#0f0" />
<rect x="564" y="623" width="3" height="4" fill="#0f0" />
<rect x="580" y="627" width="3" height="13" fill="#0f0" />
<rect x="596" y="627" width="3" height="14" fill="#0f0" />
<rect x="612" y="627" width="3" height="14" fill="#0f0" />
<rect x="628" y="627" width="3" height="13" fill="#0f0" />
<rect x="644" y="627" width="3" height="13" fill="#0f0" />
<rect x="660" y="627" width="3" height="15" fill="#0f0" />
<rect x="676" y="627" width="3" height="23" fill="#0f0" />
<rect x="692" y="627" width="3" height="32" fill="#0f0" />
<rect x="708" y="627" width="3" height="44" fill="#0f0" />
<rect x="724" y="627" width="3" height="54" fill="#0f0" />
<rect x="740" y="627" width="3" height="64" fill="#0f0" />
<rect x="756" y="627" width="3" height="70" fill="#0f0" />
<rect x="772" y="627" width="3" height="69" fill="#0f0" />
<rect x="788" y="627" width="3" height="73" fill="#0f0" />
<rect x="804" y="627" width="3" height="72" fill="#0f0" />
<rect x="820" y="627" width="3" height="72" fill="#0f0" />
<rect x="836" y="627" width="3" height="69" fill="#0f0" />
<rect x="852" y="627" width="3" height="68" fill="#0f0" />
<rect x="868" y="627" width="3" height="67" fill="#0f0" />
<rect x="884" y="627" width="3" height="64" fill="#0f0" />
<rect x="900" y="627" width="3" height="59" fill="#0f0" />
<rect x="916" y="627" width="3" height="54" fill="#0f0" />
<rect x="932" y="627" width="3" height="47" fill="#0f0" />
<rect x="948" y="627" width="3" height="43" fill="#0f0" />
<rect x="964" y="627" width="3" height="43" fill="#0f0" />
<rect x="980" y="627" width="3" height="39" fill="#0f0" />
<rect x="996" y="627" width="3" height="29" fill="#0f0" />
<rect x="1012" y="627" width="3" height="24" fill="#0f0" />
<rect x="1028" y="627" width="3" height="20" fill="#0f0" />
<rect x="1044" y="627" width="3" height="16" fill="#0f0" />
<rect x="1060" y="627" width="3" height="10" fill="#0f0" />
<rect x="1076" y="621" width="3" height="6" fill="#0f0" />
<rect x="1092" y="611" width="3" height="16" fill="#0f0" />
<rect x="1108" y="604" width="3" height="23" fill="#0f0" />
<rect x="1124" y="598" width="3" height="29" fill="#0f0" />
<rect x="1140" y="595" width="3" height="32" fill="#0f0" />
<rect x="1156" y="597" width="3" height="30" fill="#0f0" />
<rect x="1172" y="601" width="3" height="26" fill="#0f0" />
<rect x="1188" y="604" width="3" height="23" fill="#0f0" />
<rect x="1204" y="605" width="3" height="22" fill="#0f0" />
<rect x="1220" y="610" width="3" height="17" fill="#0f0" />
<rect x="1236" y="609" width="3" height="18" fill="#0f0" />
<rect x="1252" y="611" width="3" height="16" fill="#0f0" />
<rect x="1268" y="624" width="3" height="3" fill="#0f0" />
<rect x="1284" y="627" width="3" height="8" fill="#0f0" />
<path d="M6 733.5H1644" stroke="#000" stroke-width="1" stroke-dasharray="3 3" fill="none"/>
<path d="M6 769.5H1644" stroke="#000" stroke-width="1" stroke-dasharray="3 3" fill="none"/>
<path d="M6 811.5H1644" stroke="#000" stroke-width="1" stroke-dasharray="3 3" fill="none"/>
</g>
<rect x="4" y="396" width="6" height="6" fill="#f00" />
<rect x="6" y="398" width="2" height="2" fill="#fff" />
<rect x="1644" y="398" width="1" height="2" fill="#f00" />
<rect x="4" y="427" width="6" height="6" fill="#f00" />
<rect x="6" y="429" width="2" height="2" fill="#fff" />
<rect x="1644" y="429" width="1" height="2" fill="#f00" />
<rect x="4" y="460" width="6" height="6" fill="#32cd32" />
<rect x="6" y="462" width="2" height="2" fill="#fff" />
<rect x="1644" y="462" width="1" height="2" fill="#32cd32" />
<rect x="4" y="508" width="6" height="6" fill="#00f" />
<rect x="6" y="510" width="2" height="2" fill="#fff" />
<rect x="1644" y="510" width="1" height="2" fill="#00f" />
<rect x="4" y="541" width="6" height="6" fill="#00f" />
<rect x="6" y="543" width="2" height="2" fill="#fff" />
<rect x="1644" y="543" width="1" height="2" fill="#00f" />
<rect x="1645" y="54" width="2" height="1" fill="#000" />
<rect x="1645" y="87" width="2" height="1" fill="#000" />
<rect x="1645" y="120" width="2" height="1" fill="#000" />
<rect x="1645" y="153" width="2" height="1" fill="#000" />
<rect x="1645" y="186" width="2" height="1" fill="#000" />
<rect x="1645" y="219" width="2" height="1" fill="#000" />
<rect x="1645" y="252" width="2" height="1" fill="#000" />
<rect x="1645" y="285" width="2" height="1" fill="#000" />
<rect x="1645" y="318" width="2" height="1" fill="#000" />
<rect x="1645" y="351" width="2" height="1" fill="#000" />
<rect x="1645" y="384" width="2" height="1" fill="#000" />
<rect x="1645" y="417" width="2" height="1" fill="#000" />
<rect x="1645" y="450" width="2" height="1" fill="#000" />
<rect x="1645" y="483" width="2" height="1" fill="#000" />
<rect x="1645" y="517" width="2" height="1" fill="#000" />
<rect x="1645" y="550" width="2" height="1" fill="#000" />
<rect x="1645" y="583" width="2" height="1" fill="#000" />
<rect x="1645" y="627" width="1" height="1" fill="#000" />
<rect x="5" y="831" width="1" height="3" fill="#000" />
<rect x="69" y="831" width="1" height="3" fill="#000" />
<rect x="133" y="831" width="1" height="3" fill="#000" />
<rect x="197" y="831" width="1" height="3" fill="#000" />
<rect x="261" y="831" width="1" height="3" fill="#000" />
<rect x="325" y="831" width="1" height="3" fill="#000" />
<rect x="389" y="831" width="1" height="3" fill="#000" />
<rect x="453" y="831" width="1" height="3" fill="#000" />
<rect x="517" y="831" width="1" height="3" fill="#000" />
<rect x="581" y="831" width="1" height="3" fill="#000" />
<rect x="645" y="831" width="1" height="3" fill="#000" />
<rect x="709" y="831" width="1" height="3" fill="#000" />
<rect x="773" y="831" width="1" height="3" fill="#000" />
<rect x="837" y="831" width="1" height="3" fill="#000" />
<rect x="901" y="831" width="1" height="3" fill="#000" />
<rect x="965" y="831" width="1" height="3" fill="#000" />
<rect x="1029" y="831" width="1" height="3" fill="#000" />
<rect x="1093" y="831" width="1" height="3" fill="#000" />
<rect x="1157" y="831" width="1" height="3" fill="#000" />
<rect x="1221" y="831" width="1" height="3" fill="#000" />
<rect x="1285" y="831" width="1" height="3" fill="#000" />
<path d="M1309.700 27.800h9.600l-4.800 5.200z" fill="#000" shape-rendering="geometricPrecision"/>
</g>
<polyline clip-path="url(#cp)" points="5.5,651.2 21.5,651.2 37.5,648.8 53.5,646.8 69.5,644.8 85.5,642.5 101.5,639.5 117.5,635.5 133.5,632.5 149.5,629.5 165.5,627.5 181.5,625.5 197.5,623.8 213.5,620.5 229.5,618.5 245.5,616.5 261.5,615.5 277.5,614.5 293.5,613.8 309.5,613.8 325.5,613.8 341.5,614.2 357.5,615.8 373.5,616.5 389.5,616.8 405.5,617.5 421.5,617.5 437.5,617.5 453.5,617.2 469.5,614.5 485.5,613.8 501.5,612.5 517.5,612.5 533.5,612.5 549.5,612.5 565.5,613.5 581.5,616.5 597.5,619.5 613.5,623.5 629.5,627.5 645.5,630.5 661.5,633.5 677.5,637.5 693.5,641.5 709.5,646.5 725.5,651.5 741.5,657.2 757.5,663.8 773.5,670.2 789.5,676.2 805.5,682.8 821.5,687.8 837.5,691.5 853.5,694.8 869.5,696.2 885.5,696.2 901.5,694.8 917.5,693.8 933.5,690.8 949.5,686.8 965.5,684.2 981.5,681.2 997.5,676.2 1013.5,672.2 1029.5,667.5 1045.5,662.5 1061.5,657.5 1077.5,651.5 1093.5,644.8 1109.5,637.5 1125.5,629.5 1141.5,623.2 1157.5,617.5 1173.5,612.5 1189.5,607.8 1205.5,604.5 1221.5,603.5 1237.5,603.2 1253.5,603.5 1269.5,606.5 1285.5,610.5" fill="none" stroke="#f00" stroke-width="2" stroke-linejoin="round" shape-rendering="crispEdges"/>
<polyline clip-path="url(#cp)" points="5.5,769.5 21.5,759.8 37.5,770.8 53.5,772.5 69.5,772.2 85.5,761.5 101.5,761.5 117.5,760.2 133.5,768.8 149.5,766.5 165.5,769.5 181.5,764.8 197.5,758.5 213.5,761.8 229.5,763.2 245.5,762.8 261.5,762.2 277.5,773.8 293.5,776.5 309.5,766.8 325.5,765.2 341.5,765.5 357.5,766.5 373.5,769.5 389.5,761.2 405.5,768.5 421.5,762.5 437.5,761.8 453.5,758.8 469.5,754.2 485.5,763.2 501.5,771.8 517.5,772.2 533.5,771.8 549.5,768.2 565.5,775.5 581.5,791.5 597.5,772.2 613.5,771.8 629.5,771.2 645.5,772.5 661.5,774.5 677.5,782.8 693.5,786.8 709.5,791.2 725.5,791.5 741.5,794.5 757.5,792.2 773.5,781.8 789.5,788.5 805.5,782.5 821.5,782.2 837.5,781.2 853.5,784.5 869.5,781.8 885.5,780.8 901.5,777.8 917.5,776.2 933.5,772.2 949.5,774.2 965.5,779.8 981.5,774.2 997.5,765.2 1013.5,769.2 1029.5,769.2 1045.5,766.5 1061.5,763.8 1077.5,752.2 1093.5,753.2 1109.5,755.5 1125.5,754.2 1141.5,757.8 1157.5,764.5 1173.5,768.5 1189.5,768.2 1205.5,767.5 1221.5,769.5 1237.5,764.2 1253.5,767.8 1269.5,784.5 1285.5,784.5" fill="none" stroke="#1e90ff" stroke-width="2" stroke-linejoin="round"/>
<path d="M1343.8 303.5L1373 373" stroke="#4c9a2a" stroke-width="3" fill="none"/>
<path d="M1363.8 374.4L1379.9 367.7L1378.6 387.3Z" fill="#4c9a2a"/>
<text transform="translate(1650.3,58.0) scale(0.96,1)"  stroke="#000" stroke-width="0.22">1.28005</text>
<text transform="translate(1650.3,91.0) scale(0.96,1)"  stroke="#000" stroke-width="0.22">1.27845</text>
<text transform="translate(1650.3,123.6) scale(0.96,1)"  stroke="#000" stroke-width="0.22">1.27680</text>
<text transform="translate(1650.3,157.0) scale(0.96,1)"  stroke="#000" stroke-width="0.22">1.27520</text>
<text transform="translate(1650.3,189.6) scale(0.96,1)"  stroke="#000" stroke-width="0.22">1.27360</text>
<text transform="translate(1650.3,223.0) scale(0.96,1)"  stroke="#000" stroke-width="0.22">1.27195</text>
<text transform="translate(1650.3,256.0) scale(0.96,1)"  stroke="#000" stroke-width="0.22">1.27035</text>
<text transform="translate(1650.3,288.6) scale(0.96,1)"  stroke="#000" stroke-width="0.22">1.26875</text>
<text transform="translate(1650.3,322.0) scale(0.96,1)"  stroke="#000" stroke-width="0.22">1.26710</text>
<text transform="translate(1650.3,355.0) scale(0.96,1)"  stroke="#000" stroke-width="0.22">1.26550</text>
<text transform="translate(1650.3,387.6) scale(0.96,1)"  stroke="#000" stroke-width="0.22">1.26390</text>
<text transform="translate(1650.3,421.0) scale(0.96,1)"  stroke="#000" stroke-width="0.22">1.26225</text>
<text transform="translate(1650.3,453.6) scale(0.96,1)"  stroke="#000" stroke-width="0.22">1.26065</text>
<text transform="translate(1650.3,487.0) scale(0.96,1)"  stroke="#000" stroke-width="0.22">1.25900</text>
<text transform="translate(1650.3,520.8) scale(0.96,1)"  stroke="#000" stroke-width="0.22">1.25735</text>
<text transform="translate(1650.3,553.8) scale(0.96,1)"  stroke="#000" stroke-width="0.22">1.25575</text>
<text transform="translate(1650.3,587.0) scale(0.96,1)"  stroke="#000" stroke-width="0.22">1.25410</text>
<text transform="translate(1648,599) scale(0.96,1)"  stroke="#000" stroke-width="0.22">0.002121</text>
<text transform="translate(1648,631) scale(0.96,1)"  stroke="#000" stroke-width="0.22">0.00</text>
<text transform="translate(1648,702) scale(0.96,1)"  stroke="#000" stroke-width="0.22">-0.004348</text>
<text transform="translate(1648,718) scale(0.96,1)"  stroke="#000" stroke-width="0.22">100</text>
<text transform="translate(1647,737) scale(0.96,1)"  stroke="#000" stroke-width="0.22">80</text>
<text transform="translate(1647,773) scale(0.96,1)"  stroke="#000" stroke-width="0.22">50</text>
<text transform="translate(1647.5,815) scale(0.96,1)"  stroke="#000" stroke-width="0.22">15</text>
<text transform="translate(1648.3,827.3) scale(0.96,1)"  stroke="#000" stroke-width="0.22">0</text>
<rect x="1646" y="393" width="41" height="11" fill="#f00" shape-rendering="crispEdges"/>
<text transform="translate(1650.3,401.8) scale(0.96,1)" fill="#fff" stroke="#fff" stroke-width="0.22">1.26315</text>
<rect x="1646" y="424" width="41" height="11" fill="#f00" shape-rendering="crispEdges"/>
<text transform="translate(1650.3,432.8) scale(0.96,1)" fill="#fff" stroke="#fff" stroke-width="0.22">1.26163</text>
<rect x="1646" y="457" width="41" height="11" fill="#32cd32" shape-rendering="crispEdges"/>
<text transform="translate(1650.3,465.8) scale(0.96,1)" fill="#fff" stroke="#fff" stroke-width="0.22">1.26002</text>
<rect x="1646" y="474" width="41" height="11" fill="#000" shape-rendering="crispEdges"/>
<text transform="translate(1650.3,482.8) scale(0.96,1)" fill="#fff" stroke="#fff" stroke-width="0.22">1.25923</text>
<rect x="1646" y="505" width="41" height="11" fill="#00f" shape-rendering="crispEdges"/>
<text transform="translate(1650.3,513.8) scale(0.96,1)" fill="#fff" stroke="#fff" stroke-width="0.22">1.25767</text>
<rect x="1646" y="538" width="41" height="11" fill="#00f" shape-rendering="crispEdges"/>
<text transform="translate(1650.3,546.8) scale(0.96,1)" fill="#fff" stroke="#fff" stroke-width="0.22">1.25605</text>
<path d="M8 34h7l-3.5 4z" fill="#000"/>
<text transform="translate(20,39) scale(0.985,1)" word-spacing="0.35px" stroke="#000" stroke-width="0.22">GBPUSD-,H4&#160; 1.25907 1.25981 1.25765 1.25923</text>
<text transform="translate(9,601) scale(0.995,1)"  stroke="#000" stroke-width="0.22">MACD(12,26,9) -0.000362 0.000941</text>
<text transform="translate(9,720) scale(0.985,1)"  stroke="#000" stroke-width="0.22">RSI(14) 38.1323</text>
<text transform="translate(4.5,843) scale(0.975,1)" word-spacing="0.5px" stroke="#000" stroke-width="0.22">15 Aug 2023</text>
<text transform="translate(68.5,843) scale(0.975,1)" word-spacing="0.5px" stroke="#000" stroke-width="0.22">16 Aug 00:00</text>
<text transform="translate(132.5,843) scale(0.975,1)" word-spacing="0.5px" stroke="#000" stroke-width="0.22">16 Aug 16:00</text>
<text transform="translate(196.5,843) scale(0.975,1)" word-spacing="0.5px" stroke="#000" stroke-width="0.22">17 Aug 08:00</text>
<text transform="translate(260.5,843) scale(0.975,1)" word-spacing="0.5px" stroke="#000" stroke-width="0.22">18 Aug 00:00</text>
<text transform="translate(324.5,843) scale(0.975,1)" word-spacing="0.5px" stroke="#000" stroke-width="0.22">18 Aug 16:00</text>
<text transform="translate(388.5,843) scale(0.975,1)" word-spacing="0.5px" stroke="#000" stroke-width="0.22">21 Aug 08:00</text>
<text transform="translate(452.5,843) scale(0.975,1)" word-spacing="0.5px" stroke="#000" stroke-width="0.22">22 Aug 00:00</text>
<text transform="translate(516.5,843) scale(0.975,1)" word-spacing="0.5px" stroke="#000" stroke-width="0.22">22 Aug 16:00</text>
<text transform="translate(580.5,843) scale(0.975,1)" word-spacing="0.5px" stroke="#000" stroke-width="0.22">23 Aug 08:00</text>
<text transform="translate(644.5,843) scale(0.975,1)" word-spacing="0.5px" stroke="#000" stroke-width="0.22">24 Aug 00:00</text>
<text transform="translate(708.5,843) scale(0.975,1)" word-spacing="0.5px" stroke="#000" stroke-width="0.22">24 Aug 16:00</text>
<text transform="translate(772.5,843) scale(0.975,1)" word-spacing="0.5px" stroke="#000" stroke-width="0.22">25 Aug 08:00</text>
<text transform="translate(836.5,843) scale(0.975,1)" word-spacing="0.5px" stroke="#000" stroke-width="0.22">28 Aug 00:00</text>
<text transform="translate(900.5,843) scale(0.975,1)" word-spacing="0.5px" stroke="#000" stroke-width="0.22">28 Aug 16:00</text>
<text transform="translate(964.5,843) scale(0.975,1)" word-spacing="0.5px" stroke="#000" stroke-width="0.22">29 Aug 08:00</text>
<text transform="translate(1028.5,843) scale(0.975,1)" word-spacing="0.5px" stroke="#000" stroke-width="0.22">30 Aug 00:00</text>
<text transform="translate(1092.5,843) scale(0.975,1)" word-spacing="0.5px" stroke="#000" stroke-width="0.22">30 Aug 16:00</text>
<text transform="translate(1156.5,843) scale(0.975,1)" word-spacing="0.5px" stroke="#000" stroke-width="0.22">31 Aug 08:00</text>
<text transform="translate(1220.5,843) scale(0.975,1)" word-spacing="0.5px" stroke="#000" stroke-width="0.22">1 Sep 00:00</text>
<text transform="translate(1284.5,843) scale(0.975,1)" word-spacing="0.5px" stroke="#000" stroke-width="0.22">1 Sep 16:00</text>
</svg>
</body></html>
